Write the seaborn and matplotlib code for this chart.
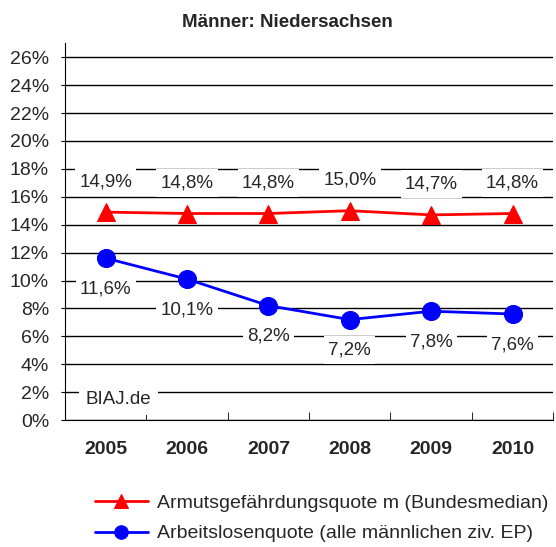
import pandas as pd
import seaborn as sns
import matplotlib.pyplot as plt
from matplotlib.ticker import FuncFormatter

years = ['2005', '2006', '2007', '2008', '2009', '2010']
armut = [14.9, 14.8, 14.8, 15.0, 14.7, 14.8]
arbeitslos = [11.6, 10.1, 8.2, 7.2, 7.8, 7.6]
name_armut = 'Armutsgefährdungsquote m (Bundesmedian)'
name_arbeit = 'Arbeitslosenquote (alle männlichen ziv. EP)'

sns.set_style('white')
plt.rcParams['font.family'] = ['Liberation Sans', 'DejaVu Sans']

df = pd.DataFrame({'Jahr': years, 'armut': armut, 'arbeit': arbeitslos})

fig = plt.figure(figsize=(5.56, 5.47), dpi=100)
ax = fig.add_axes([0.117, 0.232, 0.878, 0.689])

sns.lineplot(data=df, x='Jahr', y='armut', ax=ax, color='#ff0000', marker='^',
             markersize=13, markeredgecolor='#ff0000', linewidth=2, label=name_armut, zorder=5)
sns.lineplot(data=df, x='Jahr', y='arbeit', ax=ax, color='#0000ff', marker='o',
             markersize=13, markeredgecolor='#0000ff', linewidth=2, label=name_arbeit, zorder=5)

ax.set_xlim(-0.5, 5.5)
ax.set_ylim(0, 27)
ax.set_yticks(range(0, 27, 2))
ax.yaxis.set_major_formatter(FuncFormatter(lambda v, p: f'{int(v)}%'))
ax.grid(axis='y', color='black', linewidth=1)
ax.set_axisbelow(True)
for s in ['top', 'right']:
    ax.spines[s].set_visible(False)
ax.spines['left'].set_color('black')
ax.spines['bottom'].set_color('black')
ax.set_xlabel('')
ax.set_ylabel('')
ax.tick_params(axis='y', labelsize=14, length=3, pad=8.5, color='black', left=True)
ax.tick_params(axis='x', labelsize=14, length=0, pad=15)
for t in ax.get_xticklabels():
    t.set_fontweight('bold')
ax.set_xticks([i + 0.5 for i in range(6)], minor=True)
ax.tick_params(axis='x', which='minor', bottom=True, direction='in', length=6, color='black')

box = dict(facecolor='white', edgecolor='none', pad=3, mutation_aspect=1.35)
for i, v in enumerate(armut):
    ax.annotate(f'{v:.1f}%'.replace('.', ','), (i, v), xytext=(0, 22), textcoords='offset points',
                ha='center', va='center', fontsize=13.5, bbox=box, zorder=6)
for i, v in enumerate(arbeitslos):
    ax.annotate(f'{v:.1f}%'.replace('.', ','), (i, v), xytext=(0, -22), textcoords='offset points',
                ha='center', va='center', fontsize=13.5, bbox=box, zorder=6)

ax.text(-0.245, 1.5, 'BIAJ.de', fontsize=13.5, ha='left', va='center',
        bbox=dict(facecolor='white', edgecolor='none', pad=5), zorder=6)

ax.set_title('Männer: Niedersachsen', fontsize=13.5, fontweight='bold', pad=12, x=0.455)

ax.get_legend().remove()
h, l = ax.get_legend_handles_labels()
fig.legend(h, l, loc='lower left', bbox_to_anchor=(0.15, -0.013), frameon=False, fontsize=14,
           handlelength=2.7, labelspacing=0.65, handletextpad=0.5, borderaxespad=0.2,
           markerscale=0.75)

fig.savefig('out.png', dpi=100)
